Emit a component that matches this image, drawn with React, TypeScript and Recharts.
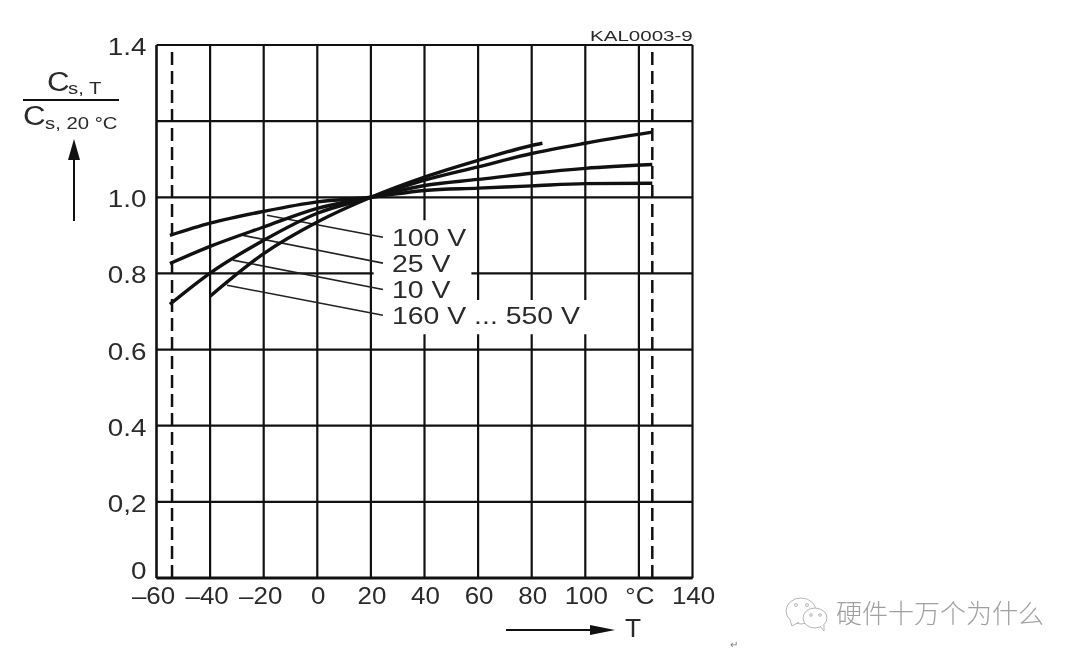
import { CartesianGrid, Line, LineChart, ReferenceArea, ReferenceLine, XAxis, YAxis } from "recharts"

const xTicks = [-60, -40, -20, 0, 20, 40, 60, 80, 100, 120, 140]
const xLabels = ["–60", "–40", "–20", "0", "20", "40", "60", "80", "100", "°C", "140"]
const yTicks = [0, 0.2, 0.4, 0.6, 0.8, 1.0, 1.2, 1.4]
const yLabels = ["0", "0,2", "0.4", "0.6", "0.8", "1.0", "", "1.4"]

const curve100V = [
  { t: -55, c: 0.9 }, { t: -40, c: 0.932 }, { t: -20, c: 0.963 }, { t: 0, c: 0.988 }, { t: 20, c: 1.0 },
  { t: 40, c: 1.018 }, { t: 60, c: 1.024 }, { t: 80, c: 1.03 }, { t: 100, c: 1.036 }, { t: 125, c: 1.037 },
]
const curve25V = [
  { t: -55, c: 0.826 }, { t: -40, c: 0.871 }, { t: -20, c: 0.922 }, { t: 0, c: 0.971 }, { t: 20, c: 1.0 },
  { t: 40, c: 1.031 }, { t: 60, c: 1.047 }, { t: 80, c: 1.063 }, { t: 100, c: 1.076 }, { t: 125, c: 1.086 },
]
const curve10V = [
  { t: -55, c: 0.719 }, { t: -40, c: 0.801 }, { t: -20, c: 0.887 }, { t: 0, c: 0.958 }, { t: 20, c: 1.0 },
  { t: 40, c: 1.045 }, { t: 60, c: 1.08 }, { t: 80, c: 1.115 }, { t: 100, c: 1.142 }, { t: 125, c: 1.171 },
]
const curve160V = [
  { t: -40, c: 0.74 }, { t: -20, c: 0.852 }, { t: 0, c: 0.935 }, { t: 20, c: 1.0 },
  { t: 40, c: 1.053 }, { t: 60, c: 1.097 }, { t: 80, c: 1.136 }, { t: 84, c: 1.142 },
]

const curves = [curve100V, curve25V, curve10V, curve160V]

const leaders = [
  [{ t: -18.8, c: 0.953 }, { t: 24.5, c: 0.895 }],
  [{ t: -27.7, c: 0.9 }, { t: 24.5, c: 0.827 }],
  [{ t: -31.5, c: 0.835 }, { t: 24.5, c: 0.758 }],
  [{ t: -33.7, c: 0.769 }, { t: 24.5, c: 0.69 }],
]

const voltageLabels = ["100 V", "25 V", "10 V", "160 V ... 550 V"]
const voltageY = [246, 272, 298, 324]

const font = "'Liberation Sans', Arial, sans-serif"
const ink = "#111"
const textInk = "#2a2a2a"
const stretch = 1.16

// the scanned lettering is wider than any installed face
function Wide({ x, y, size, sx = stretch, anchor = "start", children }: any) {
  return (
    <text
      transform={`translate(${x} ${y}) scale(${sx} 1)`}
      textAnchor={anchor}
      fontSize={size}
      fontFamily={font}
      fill={textInk}
    >
      {children}
    </text>
  )
}

function XTick({ x, y, index }: any) {
  const dx = index < 3 ? -3 : 1
  return (
    <Wide x={x + dx} y={y + 18} size={24} sx={1.08} anchor="middle">
      {xLabels[index]}
    </Wide>
  )
}

function YTick({ x, y, index }: any) {
  const dy = index === 0 ? 1 : 10
  return (
    <Wide x={x - 4} y={y + dy} size={24} anchor="end">
      {yLabels[index]}
    </Wide>
  )
}

export default function App() {
  return (
    <div style={{ position: "absolute", left: 0, top: 0, width: 1080, height: 663, background: "#fff", overflow: "hidden" }}>
      <div style={{ position: "absolute", left: 0, top: 0, filter: "blur(0.6px)" }}>
        <LineChart
          width={1080}
          height={663}
          margin={{ top: 45, right: 387.5, bottom: 45, left: 96.5 }}
        >
          <CartesianGrid stroke={ink} strokeWidth={2.2} />
          <XAxis
            dataKey="t"
            type="number"
            domain={[-60, 140]}
            ticks={xTicks}
            tick={<XTick />}
            interval={0}
            height={40}
            tickLine={false}
            axisLine={{ stroke: ink, strokeWidth: 3 }}
          />
          <YAxis
            dataKey="c"
            type="number"
            domain={[0, 1.4]}
            ticks={yTicks}
            tick={<YTick />}
            interval={0}
            width={60}
            tickLine={false}
            tickMargin={0}
            axisLine={{ stroke: ink, strokeWidth: 2 }}
          />
          <ReferenceLine x={-54.2} stroke={ink} strokeWidth={2.5} strokeDasharray="13 6" />
          <ReferenceLine x={125} stroke={ink} strokeWidth={2.5} strokeDasharray="13 6" />
          <ReferenceArea x1={21} x2={57.5} y1={0.64} y2={0.94} fill="#fff" fillOpacity={1} stroke="none" />
          <ReferenceArea x1={57.5} x2={102} y1={0.64} y2={0.73} fill="#fff" fillOpacity={1} stroke="none" />
          {leaders.map((d, i) => (
            <Line key={i} data={d} dataKey="c" type="linear" stroke="#222" strokeWidth={1.6} dot={false} isAnimationActive={false} />
          ))}
          {curves.map((d, i) => (
            <Line key={i} data={d} dataKey="c" type="monotone" stroke={ink} strokeWidth={3.4} dot={false} isAnimationActive={false} />
          ))}
        </LineChart>
      </div>
      <svg width={1080} height={663} style={{ position: "absolute", left: 0, top: 0, filter: "blur(0.6px)" }}>
        <Wide x={590} y={41} size={15} sx={1.37}>KAL0003-9</Wide>
        <Wide x={47} y={91} size={27}>C</Wide>
        <Wide x={68} y={94} size={16} sx={1.27}>s, T</Wide>
        <Wide x={23} y={125} size={27}>C</Wide>
        <Wide x={45} y={129} size={16} sx={1.27}>s, 20 °C</Wide>
        {voltageLabels.map((s, i) => (
          <Wide key={s} x={392} y={voltageY[i]} size={24.5}>{s}</Wide>
        ))}
        <Wide x={625} y={637} size={25} sx={1.05}>T</Wide>
        <line x1={23} y1={100} x2={119} y2={100} stroke={ink} strokeWidth={2} />
        <line x1={74} y1={155} x2={74} y2={221} stroke={ink} strokeWidth={2} />
        <path d="M74 139 L80 160 L68 160 Z" fill={ink} />
        <line x1={506} y1={630} x2={595} y2={630} stroke={ink} strokeWidth={2} />
        <path d="M615 630 L590 625 L590 635 Z" fill={ink} />
        <text x={730} y={648} fontSize={10} fill="#777" fontFamily={font}>↵</text>
        <g fill="#fff" stroke="#b5b5b5" strokeWidth={1}>
          <ellipse cx={801} cy={611} rx={15} ry={13} />
          <path d="M790 620 L792 626 L799 622" />
          <ellipse cx={815} cy={618} rx={12} ry={10} />
          <path d="M820 626 L824 631 L824 625" />
          <circle cx={796} cy={605} r={1.5} />
          <circle cx={807} cy={605} r={1.5} />
          <circle cx={811} cy={615} r={1.3} />
          <circle cx={820} cy={615} r={1.3} />
        </g>
        <text
          x={836}
          y={623}
          fontSize={26}
          fontWeight={300}
          fontFamily="'Noto Sans CJK SC', sans-serif"
          fill="#a0a0a0"
        >
          硬件十万个为什么
        </text>
      </svg>
    </div>
  )
}
